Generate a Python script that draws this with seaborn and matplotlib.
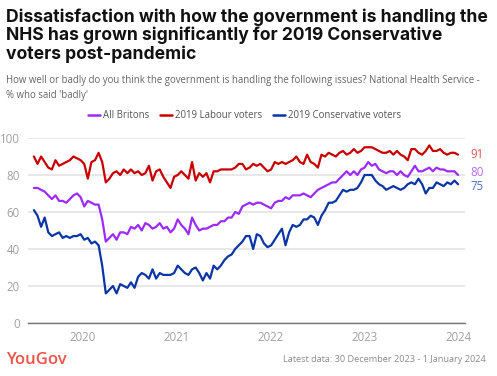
import pandas as pd
import matplotlib
matplotlib.use("Agg")
import matplotlib.pyplot as plt
from matplotlib.lines import Line2D
import seaborn as sns

# fortnightly readings, first one in late June 2019
START = "2019-06-24"

all_britons = [
    73, 73, 72, 71, 69, 67, 69, 66, 66, 65, 67, 69, 70, 68, 63, 66, 65, 64, 64, 56,
    44, 46, 48, 45, 49, 49, 48, 52, 51, 53, 50, 54, 53, 51, 52, 54, 51, 52, 49, 51,
    56, 53, 51, 48, 57, 53, 50, 51, 51, 52, 53, 53, 55, 55, 57, 57, 60, 59, 63, 64,
    65, 64, 65, 65, 64, 63, 62, 65, 66, 66, 68, 67, 69, 69, 69, 70, 69, 68, 70, 72,
    73, 74, 75, 76, 76, 78, 80, 82, 80, 82, 80, 83, 84, 87, 85, 86, 83, 82, 81, 82,
    82, 80, 82, 80, 79, 82, 85, 82, 82, 83, 84, 82, 84, 83, 83, 82, 82, 82, 80,
]
labour = [
    90, 86, 90, 87, 84, 83, 88, 85, 86, 87, 88, 90, 89, 88, 86, 78, 87, 88, 92, 87,
    76, 78, 81, 82, 80, 83, 81, 83, 81, 82, 80, 81, 85, 77, 82, 83, 79, 76, 73, 79,
    80, 82, 80, 78, 87, 77, 81, 79, 81, 76, 82, 82, 83, 83, 83, 83, 84, 86, 86, 83,
    84, 86, 85, 86, 84, 82, 83, 87, 86, 87, 86, 87, 88, 90, 87, 86, 91, 87, 86, 84,
    91, 90, 92, 91, 90, 92, 93, 91, 92, 94, 92, 93, 95, 95, 95, 94, 93, 92, 92, 93,
    91, 93, 91, 90, 88, 94, 94, 92, 91, 93, 96, 93, 93, 94, 92, 91, 92, 92, 91,
]
conservative = [
    61, 58, 52, 57, 49, 47, 48, 49, 46, 47, 46, 47, 47, 48, 45, 46, 43, 44, 42, 31,
    16, 18, 20, 16, 21, 20, 19, 22, 19, 25, 27, 26, 24, 29, 24, 27, 26, 26, 26, 27,
    31, 29, 27, 26, 29, 30, 27, 23, 27, 24, 31, 29, 31, 34, 36, 37, 40, 42, 44, 47,
    47, 40, 48, 47, 43, 41, 42, 45, 48, 51, 42, 49, 53, 52, 53, 56, 56, 58, 57, 53,
    58, 61, 65, 65, 66, 69, 72, 71, 72, 72, 73, 76, 80, 80, 80, 77, 75, 74, 72, 73,
    74, 73, 72, 73, 75, 76, 75, 78, 75, 70, 73, 73, 76, 75, 74, 76, 75, 77, 75,
]

series_names = ["All Britons", "2019 Labour voters", "2019 Conservative voters"]
line_colors = ["#9d2bff", "#c80000", "#0a35a5"]
label_colors = ["#b46bff", "#e05555", "#4a72c8"]
end_labels = ["80", "91", "75"]
year_ticks = ["2020", "2021", "2022", "2023", "2024"]

dates = pd.date_range(START, periods=len(labour), freq="14D")
wide = pd.DataFrame({
    "date": dates,
    "All Britons": all_britons,
    "2019 Labour voters": labour,
    "2019 Conservative voters": conservative,
})
df = wide.melt(id_vars="date", var_name="series", value_name="value")

sns.set_style("white")
plt.rcParams["font.family"] = ["Open Sans", "DejaVu Sans"]

fig = plt.figure(figsize=(4.97, 3.76), dpi=100)
ax = fig.add_axes([28 / 497, 1 - 323 / 376, 437 / 497, 185 / 376])

sns.lineplot(
    data=df, x="date", y="value", hue="series", hue_order=series_names,
    palette=dict(zip(series_names, line_colors)), linewidth=1.6,
    legend=False, ax=ax, clip_on=False,
)

ax.set_ylim(0, 100)
ax.set_xlim(pd.Timestamp("2019-06-01"), pd.Timestamp("2024-01-28"))
ax.set_yticks([0, 20, 40, 60, 80, 100])
ax.set_xticks([pd.Timestamp(y + "-01-01") for y in year_ticks])
ax.set_xticklabels(year_ticks)
ax.set_xlabel("")
ax.set_ylabel("")
ax.grid(axis="y", color="#e6e6e6", linewidth=1.3)
ax.set_axisbelow(True)
for side in ["top", "right", "left"]:
    ax.spines[side].set_visible(False)
ax.spines["bottom"].set_color("#777777")
ax.spines["bottom"].set_linewidth(1.0)
ax.tick_params(axis="both", length=0, labelsize=8.3, labelcolor="#a0a0a0")
ax.tick_params(axis="y", pad=6)
ax.tick_params(axis="x", pad=6)

# end-of-line value labels
last_date = dates[-1]
label_y = [81.5, 91, 74]
for name, txt, col, yv in zip(series_names, end_labels, label_colors, label_y):
    ax.annotate(txt, xy=(last_date, yv), xytext=(9, 0), textcoords="offset points",
                va="center", ha="left", fontsize=8.3, color=col)

handles = [Line2D([0], [0], color=c, linewidth=1.8) for c in line_colors]
ax.legend(handles, series_names, loc="center", bbox_to_anchor=(0.495, 1.12),
          ncol=3, frameon=False, fontsize=6.9, handlelength=1.25, handletextpad=0.3,
          columnspacing=1.15, labelcolor="#555555", borderaxespad=0)

fig.text(6 / 497, 1 - 8 / 376,
         "Dissatisfaction with how the government is handling the\n"
         "NHS has grown significantly for 2019 Conservative\n"
         "voters post-pandemic",
         ha="left", va="top", fontsize=12.6, fontweight="bold", color="#111111",
         linespacing=1.08, family=["Inter", "DejaVu Sans"])
fig.text(6 / 497, 1 - 75 / 376,
         "How well or badly do you think the government is handling the following issues? National Health Service -\n"
         "% who said 'badly'",
         ha="left", va="top", fontsize=6.95, color="#666666", linespacing=1.45)

fig.text(6 / 497, 1 - 360 / 376, "YouGov", ha="left", va="center",
         fontsize=12, color="#ee5248", fontweight="semibold")
fig.text(486 / 497, 1 - 360 / 376, "Latest data: 30 December 2023 - 1 January 2024",
         ha="right", va="center", fontsize=6.6, color="#8a8a8a")

fig.savefig("out.png", dpi=100)
